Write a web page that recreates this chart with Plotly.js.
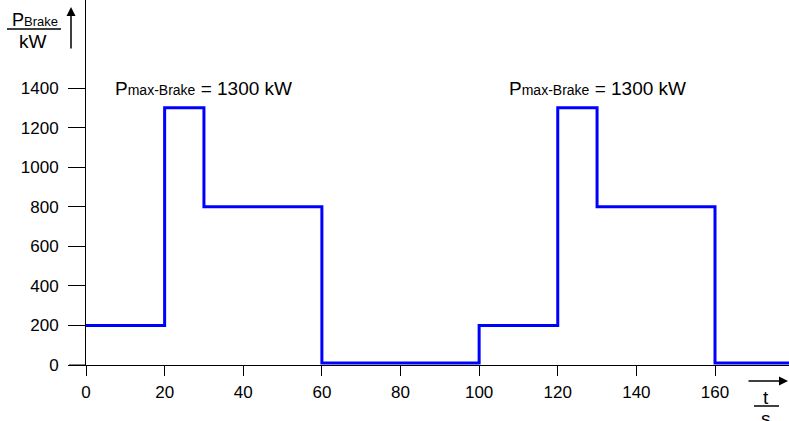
<!DOCTYPE html>
<html>
<head>
<meta charset="utf-8">
<script src="https://cdn.plot.ly/plotly-3.0.1.min.js"></script>
<style>html,body{margin:0;padding:0;background:#fff;}#chart{width:789px;height:421px;}</style>
</head>
<body>
<div id="chart"></div>
<script>
// Step profile of braking power
var timeS = [0, 20, 30, 60, 100, 120, 130, 160, 179];
var powerKW = [200, 1300, 800, 10, 200, 1300, 800, 10, 10];
var xTicks = [0, 20, 40, 60, 80, 100, 120, 140, 160];
var yTicks = [0, 200, 400, 600, 800, 1000, 1200, 1400];
var peakLabelX = [30, 130];
var peakLabelY = 1400;

var L = 86, R = 789, T = 0, B = 365;
function px(x){ return (x - L) / (R - L); }
function py(y){ return (B - y) / (B - T); }

var FONT = 'Liberation Sans, Arial, sans-serif';

var annotations = peakLabelX.map(function(x){
  return {x: x, y: peakLabelY, xref: 'x', yref: 'y', showarrow: false,
    text: 'P<span style="font-size:14px">max-Brake</span> = 1300 kW',
    font: {family: FONT, size: 19, color: '#000'}, xanchor: 'center', yanchor: 'middle'};
});
annotations.push(
  {x: px(35), y: py(20), xref: 'paper', yref: 'paper', showarrow: false,
   text: 'P<span style="font-size:13px">Brake</span>', font: {family: FONT, size: 18, color: '#000'}, xanchor: 'center', yanchor: 'middle'},
  {x: px(33), y: py(42), xref: 'paper', yref: 'paper', showarrow: false,
   text: 'kW', font: {family: FONT, size: 19, color: '#000'}, xanchor: 'center', yanchor: 'middle'},
  {x: px(71), y: py(7), xref: 'paper', yref: 'paper', showarrow: true, text: '',
   ax: 0, ay: 43, arrowhead: 2, arrowsize: 1.2, arrowwidth: 1.5, arrowcolor: '#000'},
  {x: px(789), y: py(381), xref: 'paper', yref: 'paper', showarrow: true, text: '',
   ax: -42, ay: 0, arrowhead: 2, arrowsize: 1.2, arrowwidth: 1.5, arrowcolor: '#000'},
  {x: px(766), y: py(397), xref: 'paper', yref: 'paper', showarrow: false,
   text: 't', font: {family: FONT, size: 19, color: '#000'}, xanchor: 'center', yanchor: 'middle'},
  {x: px(766), y: py(418), xref: 'paper', yref: 'paper', showarrow: false,
   text: 's', font: {family: FONT, size: 19, color: '#000'}, xanchor: 'center', yanchor: 'middle'}
);

var shapes = [
  {type: 'line', xref: 'paper', yref: 'paper', x0: px(69), x1: px(86), y0: 0, y1: 0,
   line: {color: '#000', width: 1}},
  {type: 'line', xref: 'paper', yref: 'paper', x0: px(7), x1: px(61), y0: py(29), y1: py(29),
   line: {color: '#000', width: 1.5}},
  {type: 'line', xref: 'paper', yref: 'paper', x0: px(754), x1: px(779), y0: py(406), y1: py(406),
   line: {color: '#000', width: 1.5}}
];

var trace = {x: timeS, y: powerKW, type: 'scatter', mode: 'lines',
  line: {shape: 'hv', color: '#0000ff', width: 3}, hoverinfo: 'skip', cliponaxis: false};

var layout = {
  width: 789, height: 421,
  margin: {l: L, r: 789 - R, t: T, b: 421 - B, pad: 0},
  paper_bgcolor: '#fff', plot_bgcolor: '#fff',
  showlegend: false,
  xaxis: {range: [0, (R - L) / (629 / 160)], tickvals: xTicks, ticktext: xTicks.map(String),
    showgrid: false, zeroline: false, showline: true, linecolor: '#000', linewidth: 1,
    ticks: 'outside', ticklen: 10, tickcolor: '#000', tickwidth: 1, ticklabelstandoff: 2,
    tickfont: {family: FONT, size: 17, color: '#000'}, fixedrange: true},
  yaxis: {range: [0, 365 / (277 / 1400)], tickvals: yTicks, ticktext: yTicks.map(String),
    showgrid: false, zeroline: false, showline: true, linecolor: '#000', linewidth: 1,
    ticks: 'outside', ticklen: 17, tickcolor: '#000', tickwidth: 1, ticklabelstandoff: 6,
    tickfont: {family: FONT, size: 17, color: '#000'}, fixedrange: true},
  annotations: annotations,
  shapes: shapes
};

Plotly.newPlot('chart', [trace], layout, {displayModeBar: false, staticPlot: true});
</script>
</body>
</html>
